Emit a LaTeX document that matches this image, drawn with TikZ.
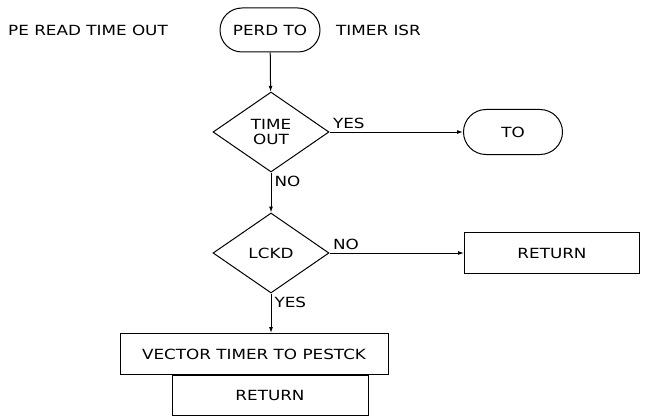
\documentclass[tikz,border=0pt]{standalone}
\usepackage{fontspec}
\setmainfont[FakeStretch=1.2]{DejaVu Sans}
\usetikzlibrary{arrows.meta,positioning,shapes.geometric,shapes.misc}
\newcommand{\fcfont}{\fontsize{14}{15}\selectfont}
\tikzset{
  term/.style={draw,rounded rectangle,minimum width=104pt,minimum height=44pt,inner sep=2pt,line width=1pt},
  decide/.style={draw,diamond,minimum width=116pt,minimum height=80pt,inner sep=0pt,align=center,line width=1pt},
  proc/.style={draw,rectangle,minimum height=41pt,inner sep=2pt,line width=1pt},
  lbl/.style={anchor=west,inner sep=0pt},
  tag/.style={inner sep=3pt},
  flow/.style={-{Latex[length=6pt,width=4pt]},line width=1pt},
}

\begin{document}
\begin{tikzpicture}[x=1pt,y=-1pt,font=\fcfont]
    \useasboundingbox (0,0) rectangle (658,417);
    % entry
    \node[term] (start) at (270,30) {PERD TO};
    \node[lbl] (title) at (8,30) {PE READ TIME OUT};
    \node[lbl] (isr) at (336,30) {TIMER ISR};
    % tests
    \node[decide] (tout) at (271,132) {TIME\\OUT};
    \node[term,minimum width=103pt,minimum height=45pt] (to) at (513,132) {TO};
    \node[decide] (lckd) at (271,253) {LCKD};
    \node[proc,minimum width=175pt] (ret1) at (552,253) {RETURN};
    % exit
    \node[proc,minimum width=268pt] (vec) at (254,354) {VECTOR TIMER TO PESTCK};
    \node[proc,minimum width=196pt,minimum height=40pt] (ret2) at (270,395) {RETURN};
    \draw[flow] (start) -- (tout);
    \draw[flow] (tout.east) -- node[tag,pos=0,above right] {YES} (to.west);
    \draw[flow] (tout.south) -- node[tag,pos=0,below right] {NO} (lckd.north);
    \draw[flow] (lckd.east) -- node[tag,pos=0,above right] {NO} (ret1.west);
    \draw[flow] (lckd.south) -- node[tag,pos=0,below right] {YES} (lckd.south |- vec.north);
  \end{tikzpicture}
\end{document}
